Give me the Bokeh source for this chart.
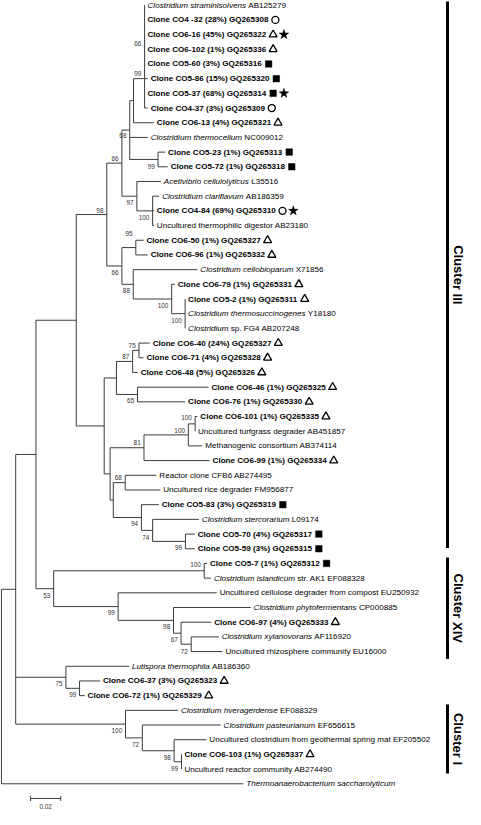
from bokeh.plotting import figure
from bokeh.models import ColumnDataSource, Range1d
from bokeh.core.properties import value
from bokeh.embed import file_html
from bokeh.resources import INLINE

# ---------------- data ----------------
leaf_names = [
    "Clostridium straminisolvens AB125279", "Clone CO4 -32 (28%) GQ265308",
    "Clone CO6-16 (45%) GQ265322", "Clone CO6-102 (1%) GQ265336",
    "Clone CO5-60 (3%) GQ265316", "Clone CO5-86 (15%) GQ265320",
    "Clone CO5-37 (68%) GQ265314", "Clone CO4-37 (3%) GQ265309",
    "Clone CO6-13 (4%) GQ265321", "Clostridium thermocellum NC009012",
    "Clone CO5-23 (1%) GQ265313", "Clone CO5-72 (1%) GQ265318",
    "Acetivibrio cellulolyticus L35516", "Clostridium clariflavum AB186359",
    "Clone CO4-84 (69%) GQ265310", "Uncultured thermophilic digestor AB23180",
    "Clone CO6-50 (1%) GQ265327", "Clone CO6-96 (1%) GQ265332",
    "Clostridium cellobioparum X71856", "Clone CO6-79 (1%) GQ265331",
    "Clone CO5-2 (1%) GQ265311", "Clostridium thermosuccinogenes Y18180",
    "Clostridium sp. FG4 AB207248", "Clone CO6-40 (24%) GQ265327",
    "Clone CO6-71 (4%) GQ265328", "Clone CO6-48 (5%) GQ265326",
    "Clone CO6-46 (1%) GQ265325", "Clone CO6-76 (1%) GQ265330",
    "Clone CO6-101 (1%) GQ265335", "Uncultured turfgrass degrader AB451857",
    "Methanogenic consortium AB374114", "Clone CO6-99 (1%) GQ265334",
    "Reactor clone CFB6 AB274495", "Uncultured rice degrader FM956877",
    "Clone CO5-83 (3%) GQ265319", "Clostridium stercorarium L09174",
    "Clone CO5-70 (4%) GQ265317", "Clone CO5-59 (3%) GQ265315",
    "Clone CO5-7 (1%) GQ265312", "Clostridium islandicum str. AK1 EF088328",
    "Uncultured cellulose degrader from compost EU250932",
    "Clostridium phytofermentans CP000885", "Clone CO6-97 (4%) GQ265333",
    "Clostridium xylanovorans AF116920", "Uncultured rhizosphere community EU16000",
    "Lutispora thermophila AB186360", "Clone CO6-37 (3%) GQ265323",
    "Clone CO6-72 (1%) GQ265329", "Clostridium hveragerdense EF088329",
    "Clostridium pasteurianum EF656615",
    "Uncultured clostridium from geothermal spring mat EF205502",
    "Clone CO6-103 (1%) GQ265337", "Uncultured reactor community AB274490",
    "Thermoanaerobacterium saccharolyticum",
]
# number of leading italic words (0 = roman; clones are bold)
leaf_italic_words = [2, 0, 0, 0, 0, 0, 0, 0, 0, 2, 0, 0, 2, 2, 0, 0, 0, 0, 2, 0,
                     0, 2, 1, 0, 0, 0, 0, 0, 0, 0, 0, 0, 0, 0, 0, 2, 0, 0, 0, 2,
                     0, 2, 0, 2, 0, 2, 0, 0, 2, 2, 0, 0, 0, 2]
# sample symbol: o = CO4, t = CO6, s = CO5
leaf_mark = ["", "o", "t", "t", "s", "s", "s", "o", "t", "", "s", "s", "", "", "o", "", "t", "t",
             "", "t", "t", "", "", "t", "t", "t", "t", "t", "t", "", "", "t", "", "", "s", "",
             "s", "s", "s", "", "", "", "t", "", "", "", "t", "t", "", "", "", "t", "", ""]
leaf_star = [2, 6, 14]
leaf_parent = ["P66a"] * 8 + ["N99a", "N68", "N99b", "N99b", "N97", "N100a", "N100a", "N100a",
               "N95", "N95", "N88", "N100b", "N100c", "N100c", "N100c", "N75", "N75", "N87",
               "N65", "N65", "N100e", "N100e", "N100d", "N81", "N68b", "N68b", "N94", "N74",
               "N99c", "N99c", "N100f", "N100f", "N99d", "N98b", "N67", "N72", "N72", "N75b",
               "N99e", "N99e", "N100CI", "N72b", "N98c", "N99f", "N99f", "R"]
# distance from the root (substitutions per site)
leaf_depth = [0.0946, 0.0946, 0.0946, 0.0946, 0.0946, 0.0967, 0.0946, 0.0967, 0.1008, 0.0967,
              0.1082, 0.1099, 0.1054, 0.1043, 0.1008, 0.1008, 0.0939, 0.0967, 0.1295, 0.1146,
              0.1214, 0.1214, 0.1214, 0.0980, 0.0939, 0.0901, 0.1369, 0.1214, 0.1295, 0.1280,
              0.1327, 0.1376, 0.1024, 0.1050, 0.1040, 0.1305, 0.1278, 0.1278, 0.1359, 0.1385,
              0.1423, 0.1647, 0.1387, 0.1436, 0.1461, 0.0843, 0.0652, 0.0550, 0.1167, 0.1449,
              0.1355, 0.1190, 0.1190, 0.1599]

node_ids = ["R", "NB", "NA", "NIII", "N98", "N66b", "N68", "N99a", "P66a", "N99b", "N97",
            "N100a", "N66c", "N95", "N88", "N100b", "N100c", "Nlow", "Nb1", "N87", "N75",
            "N65", "Nb2", "N81", "N100d", "N100e", "Nc", "N68b", "N94", "N74", "N99c", "N53",
            "N100f", "N99d", "N98b", "N67", "N72", "N75b", "N99e", "N100CI", "N72b", "N98c",
            "N99f"]
node_parent = [None, "R", "NB", "NA", "NIII", "N98", "N66b", "N68", "N99a", "N68", "N66b",
               "N97", "N98", "N66c", "N66c", "N88", "N100b", "NIII", "Nlow", "Nb1", "N87",
               "Nb1", "Nlow", "Nb2", "N81", "N100d", "Nb2", "Nc", "Nc", "N94", "N74", "NA",
               "N53", "N53", "N99d", "N98b", "N67", "NB", "N75b", "NB", "N100CI", "N72b",
               "N98c"]
node_depth = [0.0, 0.0094, 0.0228, 0.0494, 0.0696, 0.0796, 0.0848, 0.0873, 0.0946, 0.1035,
              0.0895, 0.0999, 0.0796, 0.0888, 0.0871, 0.1125, 0.1214, 0.0679, 0.0760, 0.0867,
              0.0909, 0.0899, 0.0718, 0.0942, 0.1235, 0.1280, 0.0739, 0.0818, 0.0925, 0.0999,
              0.1216, 0.0345, 0.1340, 0.0771, 0.1137, 0.1187, 0.1254, 0.0426, 0.0516, 0.0820,
              0.0931, 0.1141, 0.1190]
node_anchor_leaf = {"P66a": 5}

sup_node = ["P66a", "P66a", "N68", "N99b", "N66b", "N97", "N100a", "N98", "N95", "N66c", "N88",
            "N100b", "N100c", "N75", "N87", "N65", "N100e", "N100d", "N81", "N68b", "N94", "N74",
            "N99c", "N100f", "N53", "N99d", "N98b", "N67", "N72", "N75b", "N99e", "N100CI",
            "N72b", "N98c", "N99f"]
sup_text = ["66", "99", "68", "99", "66", "97", "100", "98", "95", "66", "88", "100", "100", "75",
            "87", "65", "100", "100", "81", "68", "94", "74", "99", "100", "53", "99", "98", "67",
            "72", "75", "99", "100", "72", "98", "99"]
sup_dy = [-2.39, -0.35, 0.40, 0.45, -0.30, 0.45, 0.43, -0.25, -0.98, 0.42, 0.40, 0.42, 0.43,
          -0.35, -0.33, 0.42, -0.41, -0.33, -0.35, -0.35, 0.39, 0.47, 0.43, -0.42, 0.43, 0.42,
          0.44, 0.44, 0.47, 0.42, 0.45, 0.42, 0.43, 0.43, 0.47]

cluster_names = ["Cluster III", "Cluster XIV", "Cluster I"]
cluster_first = [-0.25, 37.6, 47.6]
cluster_last = [36.95, 44.5, 52.3]
scale_value = 0.02
scale_label = "0.02"

# ---------------- layout ----------------
W, H = 465, 809
X0, X1 = -0.00064, 0.30671
Y0, Y1 = 54.75, -0.32
PXU = W / (X1 - X0)
FS = 8.1
FS_SUP = 6.4
FONT = "Liberation Sans"

AR = {' ': 278, '.': 278, '-': 333, '(': 333, ')': 333, '%': 889,
      'A': 667, 'B': 667, 'C': 722, 'D': 722, 'E': 667, 'F': 611, 'G': 778, 'H': 722,
      'I': 278, 'J': 500, 'K': 667, 'L': 556, 'M': 833, 'N': 722, 'O': 778, 'P': 667,
      'Q': 778, 'R': 722, 'S': 667, 'T': 611, 'U': 722, 'V': 667, 'W': 944, 'X': 667,
      'Y': 667, 'Z': 611, 'a': 556, 'b': 556, 'c': 500, 'd': 556, 'e': 556, 'f': 278,
      'g': 556, 'h': 556, 'i': 222, 'j': 222, 'k': 500, 'l': 222, 'm': 833, 'n': 556,
      'o': 556, 'p': 556, 'q': 556, 'r': 333, 's': 500, 't': 278, 'u': 556, 'v': 500,
      'w': 722, 'x': 500, 'y': 500, 'z': 500}
AB = {' ': 278, '-': 333, '(': 333, ')': 333, '%': 889, 'C': 722, 'G': 778, 'O': 778,
      'Q': 778, 'l': 278, 'o': 611, 'n': 611, 'e': 556}


def width_units(s, table):
    em = sum(table.get(c, 556) for c in s)
    return em * FS / 1000.0 / PXU


def u(px):
    return px / PXU


p = figure(width=W, height=H, x_range=Range1d(X0, X1), y_range=Range1d(Y0, Y1),
           output_backend="svg", toolbar_location=None,
           x_axis_location=None, y_axis_location=None,
           min_border_left=0, min_border_right=0, min_border_top=0, min_border_bottom=0)
p.xgrid.visible = False
p.ygrid.visible = False
p.outline_line_color = None
p.background_fill_color = "white"
p.border_fill_color = "white"

# ---- tree geometry ----
depth = dict(zip(node_ids, node_depth))
children = {n: [] for n in node_ids}
for i, par in enumerate(leaf_parent):
    children[par].append(("leaf", i))
for n, par in zip(node_ids, node_parent):
    if par is not None:
        children[par].append(("node", n))

ycache = {}


def node_y(n):
    if n in ycache:
        return ycache[n]
    ys = [c[1] if c[0] == "leaf" else node_y(c[1]) for c in children[n]]
    if n in node_anchor_leaf:
        y = float(node_anchor_leaf[n])
    else:
        y = (min(ys) + max(ys)) / 2.0
    ycache[n] = y
    return y


sx0, sy0, sx1, sy1 = [], [], [], []
for n in node_ids:
    ys = []
    for kind, c in children[n]:
        if kind == "leaf":
            cy, cx = float(c), leaf_depth[c]
        else:
            cy, cx = node_y(c), depth[c]
        ys.append(cy)
        if cx > depth[n]:
            sx0.append(depth[n]); sy0.append(cy); sx1.append(cx); sy1.append(cy)
    sx0.append(depth[n]); sy0.append(min(ys)); sx1.append(depth[n]); sy1.append(max(ys))

p.segment(x0="x0", y0="y0", x1="x1", y1="y1",
          source=ColumnDataSource(dict(x0=sx0, y0=sy0, x1=sx1, y1=sy1)),
          line_color="#3c3c3c", line_width=1)

# ---- leaf labels ----
gap = u(2.9)
bold = dict(x=[], y=[], text=[])
ital = dict(x=[], y=[], text=[])
roman = dict(x=[], y=[], text=[])
marks = {"o": dict(x=[], y=[]), "t": dict(x=[], y=[]), "s": dict(x=[], y=[])}
stars = dict(x=[], y=[])
for i, name in enumerate(leaf_names):
    x0 = leaf_depth[i] + gap
    y = float(i)
    if name.startswith("Clone"):
        bold["x"].append(x0); bold["y"].append(y); bold["text"].append(name)
        xe = x0 + width_units(name, AB)
        mx = xe + u(6.8)
        if leaf_mark[i]:
            marks[leaf_mark[i]]["x"].append(mx); marks[leaf_mark[i]]["y"].append(y)
        if i in leaf_star:
            stars["x"].append(mx + u(10.8)); stars["y"].append(y)
    else:
        k = leaf_italic_words[i]
        words = name.split(" ")
        if k > 0:
            it = " ".join(words[:k])
            ital["x"].append(x0); ital["y"].append(y); ital["text"].append(it)
            rest = " ".join(words[k:])
            if rest:
                roman["x"].append(x0 + width_units(it + " ", AR)); roman["y"].append(y)
                roman["text"].append(rest)
        else:
            roman["x"].append(x0); roman["y"].append(y); roman["text"].append(name)

for d, style in ((bold, "bold"), (ital, "italic"), (roman, "normal")):
    p.text(x="x", y="y", text="text", source=ColumnDataSource(d),
           text_font=value(FONT), text_font_size=value(f"{FS}px"), text_font_style=style,
           text_color="black", text_baseline="middle", text_align="left")

p.scatter(x="x", y="y", source=ColumnDataSource(marks["o"]), marker="circle", size=7,
          fill_color=None, line_color="black", line_width=1.3)
p.scatter(x="x", y="y", source=ColumnDataSource(marks["t"]), marker="triangle", size=8,
          fill_color=None, line_color="black", line_width=1.3)
p.scatter(x="x", y="y", source=ColumnDataSource(marks["s"]), marker="square", size=6.5,
          fill_color="black", line_color="black", line_width=0.5)
p.scatter(x="x", y="y", source=ColumnDataSource(stars), marker="star", size=10,
          fill_color="black", line_color="black", line_width=0.5)

# ---- bootstrap values ----
bx = [depth[n] - u(3.3) for n in sup_node]
by = [node_y(n) + dy for n, dy in zip(sup_node, sup_dy)]
p.text(x="x", y="y", text="text", source=ColumnDataSource(dict(x=bx, y=by, text=sup_text)),
       text_font=value(FONT), text_font_size=value(f"{FS_SUP}px"), text_color="#333333",
       text_baseline="middle", text_align="right")

# ---- cluster bars ----
bar_x = X0 + u(447)
lab_x = X0 + u(457.5)
p.segment(x0=[bar_x] * 3, y0=cluster_first, x1=[bar_x] * 3, y1=cluster_last,
          line_color="black", line_width=3)
p.text(x=[lab_x] * 3, y=[(a + b) / 2 for a, b in zip(cluster_first, cluster_last)],
       text=cluster_names, angle=-1.5708, text_font=value(FONT),
       text_font_size=value("13px"), text_font_style="bold", text_color="black",
       text_align="center", text_baseline="middle")

# ---- scale bar ----
sb_x0 = X0 + u(31 * W / 481.0)
sb_row = 54.0
p.segment(x0=[sb_x0, sb_x0, sb_x0 + scale_value], y0=[sb_row, sb_row - 0.17, sb_row - 0.17],
          x1=[sb_x0 + scale_value, sb_x0, sb_x0 + scale_value], y1=[sb_row, sb_row + 0.17, sb_row + 0.17],
          line_color="#3c3c3c", line_width=1)
p.text(x=[sb_x0 + scale_value / 2], y=[sb_row + 0.52], text=[scale_label],
       text_font=value(FONT), text_font_size=value(f"{FS_SUP}px"), text_color="#333333",
       text_align="center", text_baseline="middle")

open("out.html", "w").write(file_html(p, INLINE))
